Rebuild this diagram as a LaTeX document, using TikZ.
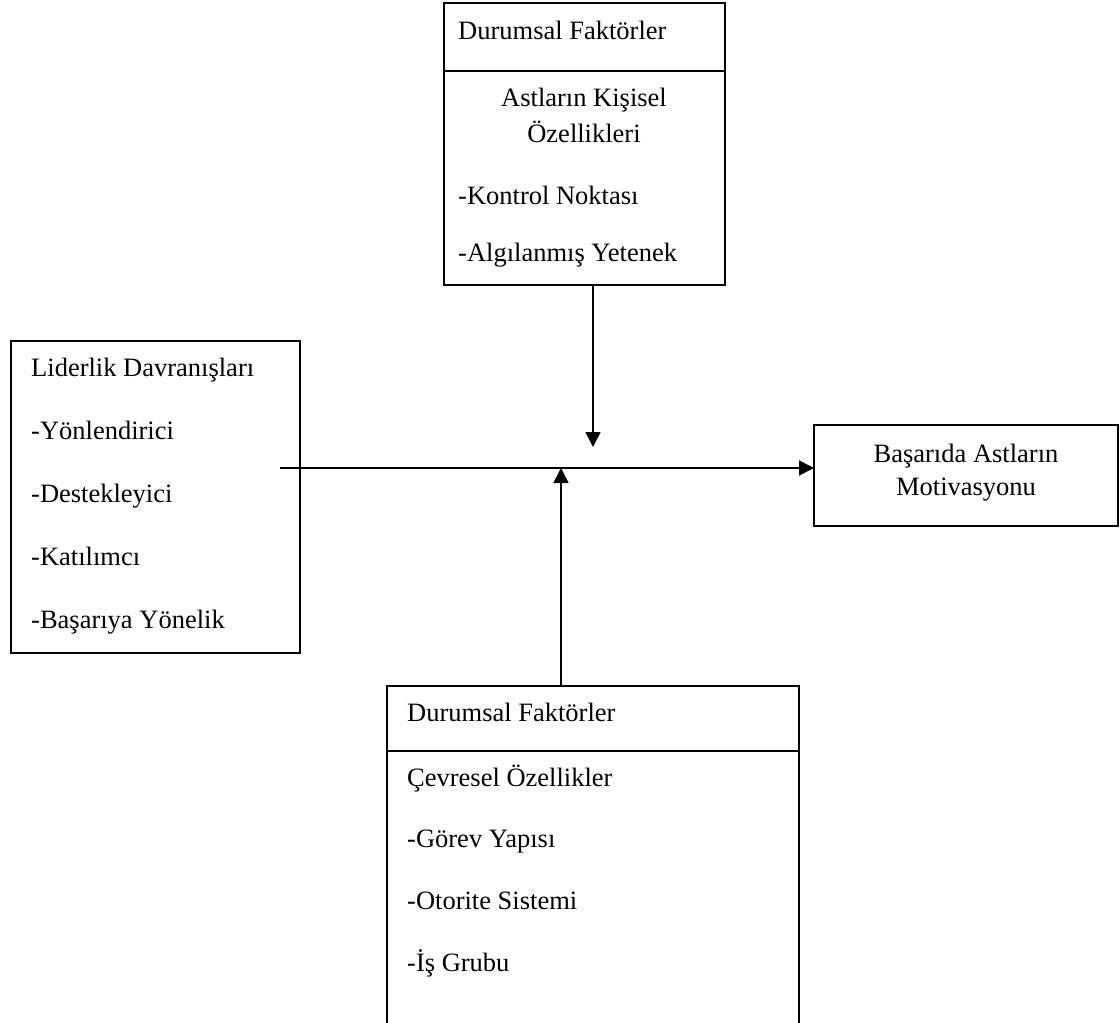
\documentclass[tikz,border=0pt]{standalone}
\usepackage{fontspec}
\setmainfont{Liberation Serif}
\usetikzlibrary{arrows.meta}
\begin{document}
\begin{tikzpicture}[x=1pt,y=-1pt,
  box/.style={draw, line width=1.6pt, inner sep=0pt, outer sep=0pt, anchor=north west},
  lbl/.style={anchor=base west, inner sep=0pt, font=\fontsize{26.5}{30}\selectfont},
  ctr/.style={anchor=base, inner sep=0pt, font=\fontsize{26.5}{30}\selectfont},
  link/.style={line width=1.6pt, -{Triangle[length=15pt,width=15pt]}}]
\useasboundingbox (0,0) rectangle (1120,1023);

% situational factors: personal traits of subordinates
\node[box, minimum width=281pt, minimum height=282pt] (top) at (444,3) {};
\draw[line width=1.6pt] (top.west |- 0,71) -- (top.east |- 0,71);
\node[lbl] (t1) at (458,39) {Durumsal Faktörler};
\node[ctr] (t2) at (584,106) {Astların Kişisel};
\node[ctr] (t3) at (584,142) {Özellikleri};
\node[lbl] (t4) at (458,204) {-Kontrol Noktası};
\node[lbl] (t5) at (458,261) {-Algılanmış Yetenek};

% leader behaviours
\node[box, minimum width=289pt, minimum height=312pt] (lead) at (11,341) {};
\node[lbl] (l1) at (31,376) {Liderlik Davranışları};
\node[lbl] (l2) at (31,439) {-Yönlendirici};
\node[lbl] (l3) at (31,502) {-Destekleyici};
\node[lbl] (l4) at (31,565) {-Katılımcı};
\node[lbl] (l5) at (31,628) {-Başarıya Yönelik};

% outcome
\node[box, minimum width=304pt, minimum height=101pt] (res) at (814,425) {};
\node[ctr] (r1) at (966,462) {Başarıda Astların};
\node[ctr] (r2) at (966,495) {Motivasyonu};

% situational factors: environmental traits
\node[box, minimum width=412pt, minimum height=338pt] (bot) at (387,686) {};
\draw[line width=1.6pt] (bot.west |- 0,751) -- (bot.east |- 0,751);
\node[lbl] (b1) at (407,721) {Durumsal Faktörler};
\node[lbl] (b2) at (407,786) {Çevresel Özellikler};
\node[lbl] (b3) at (407,847) {-Görev Yapısı};
\node[lbl] (b4) at (407,909) {-Otorite Sistemi};
\node[lbl] (b5) at (407,971) {-İş Grubu};

% connectors
\coordinate (hs) at (280,468);
\coordinate (dtip) at (593,447);
\coordinate (utip) at (561,468);
\draw[link] (hs) -- (hs -| res.west);
\draw[link] (top.south -| dtip) -- (dtip);
\draw[link] (bot.north -| utip) -- (utip);
\end{tikzpicture}
\end{document}
